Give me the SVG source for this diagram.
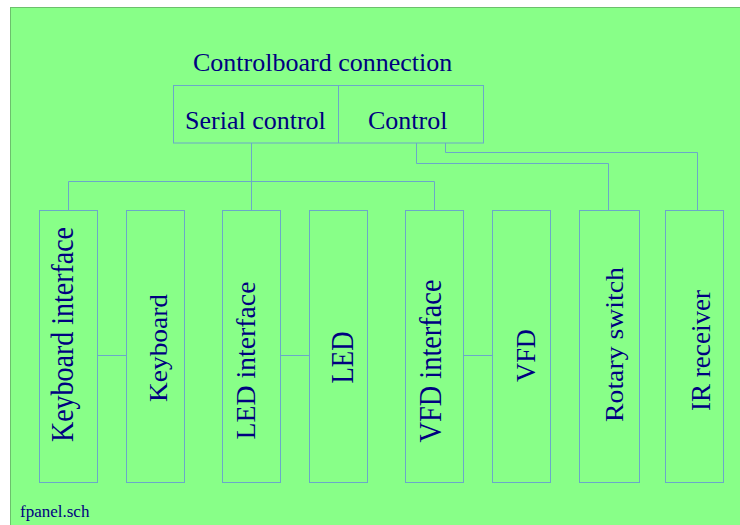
<svg xmlns="http://www.w3.org/2000/svg" width="740" height="525" viewBox="0 0 740 525">
<style>
.box{fill:none;stroke:#6aa8c8;stroke-width:1}
.wire{fill:none;stroke:#6aa8c8;stroke-width:1}
.t{font-family:"Liberation Serif","Times New Roman",serif;fill:#000080}
</style>
<rect x="0" y="0" width="740" height="525" fill="#ffffff"/>
<rect x="10.5" y="7.5" width="740" height="525" fill="#88ff88" stroke="#6cc06c" stroke-width="1"/>
<g id="connectors">
<polyline class="wire" points="251.5,143 251.5,210"/>
<polyline class="wire" points="68.5,210 68.5,181.5 434.5,181.5 434.5,210"/>
<polyline class="wire" points="416.5,143 416.5,163.5 608.5,163.5 608.5,210"/>
<polyline class="wire" points="445.5,143 445.5,152.5 697.5,152.5 697.5,210"/>
<line class="wire" x1="97.5" y1="355.5" x2="126.5" y2="355.5"/>
<line class="wire" x1="280.5" y1="355.5" x2="309.5" y2="355.5"/>
<line class="wire" x1="463.5" y1="355.5" x2="492.5" y2="355.5"/>
</g>
<g id="controlboard">
<text class="t" x="193" y="71" font-size="26">Controlboard connection</text>
<rect class="box" x="173.5" y="85.5" width="310" height="57.5"/>
<line class="box" x1="338.5" y1="85.5" x2="338.5" y2="143"/>
<text class="t" x="185" y="128.5" font-size="26">Serial control</text>
<text class="t" x="368" y="128.5" font-size="26">Control</text>
</g>
<g id="keyboard-interface">
<rect class="box" x="39.5" y="210.5" width="58" height="272"/>
<text class="t" font-size="32" transform="translate(73,442) rotate(-90)" textLength="215" lengthAdjust="spacingAndGlyphs">Keyboard interface</text>
</g>
<g id="keyboard">
<rect class="box" x="126.5" y="210.5" width="58" height="272"/>
<text class="t" font-size="26" transform="translate(166.5,402) rotate(-90)" textLength="108" lengthAdjust="spacingAndGlyphs">Keyboard</text>
</g>
<g id="led-interface">
<rect class="box" x="222.5" y="210.5" width="58" height="272"/>
<text class="t" font-size="28" transform="translate(255,439.5) rotate(-90)" textLength="158" lengthAdjust="spacingAndGlyphs">LED interface</text>
</g>
<g id="led">
<rect class="box" x="309.5" y="210.5" width="58" height="272"/>
<text class="t" font-size="31" transform="translate(352.5,383.5) rotate(-90)" textLength="52" lengthAdjust="spacingAndGlyphs">LED</text>
</g>
<g id="vfd-interface">
<rect class="box" x="405.5" y="210.5" width="58" height="272"/>
<text class="t" font-size="32" transform="translate(441,442.5) rotate(-90)" textLength="163" lengthAdjust="spacingAndGlyphs">VFD interface</text>
</g>
<g id="vfd">
<rect class="box" x="492.5" y="210.5" width="58" height="272"/>
<text class="t" font-size="27" transform="translate(535,382) rotate(-90)" textLength="53" lengthAdjust="spacingAndGlyphs">VFD</text>
</g>
<g id="rotary-switch">
<rect class="box" x="579.5" y="210.5" width="60" height="272"/>
<text class="t" font-size="25" transform="translate(623,422) rotate(-90)" textLength="155" lengthAdjust="spacingAndGlyphs">Rotary switch</text>
</g>
<g id="ir-receiver">
<rect class="box" x="665.5" y="210.5" width="58" height="272"/>
<text class="t" font-size="28" transform="translate(710,411) rotate(-90)" textLength="121" lengthAdjust="spacingAndGlyphs">IR receiver</text>
</g>
<text class="t" x="20" y="517" font-size="17">fpanel.sch</text>
</svg>
